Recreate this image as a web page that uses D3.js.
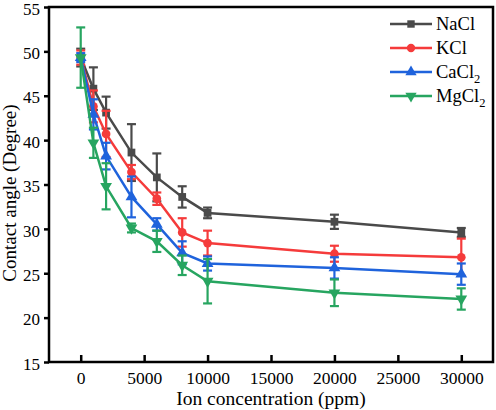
<!DOCTYPE html>
<html>
<head>
<meta charset="utf-8">
<script src="https://cdn.jsdelivr.net/npm/d3@7"></script>
<style>
  body { margin: 0; background: #fff; }
  text { font-family: "Liberation Serif", "Times New Roman", serif; }
</style>
</head>
<body>
<div id="chart"></div>
<script>
const concentrations = [0, 1000, 2000, 4000, 6000, 8000, 10000, 20000, 30000];
const seriesNames = ["NaCl", "KCl", "CaCl2", "MgCl2"];
const naclValues = [49.3, 45.8, 43.1, 38.6, 35.8, 33.6, 31.8, 30.8, 29.6];
const naclErrors = [1.0, 2.4, 1.8, 3.2, 2.7, 1.2, 0.6, 0.8, 0.5];
const kclValues = [49.3, 43.8, 40.7, 36.4, 33.4, 29.6, 28.4, 27.2, 26.8];
const kclErrors = [0.8, 1.8, 2.6, 0.8, 0.7, 1.6, 1.4, 0.9, 2.1];
const cacl2Values = [49.3, 42.9, 38.2, 33.6, 30.5, 27.3, 26.1, 25.6, 24.9];
const cacl2Errors = [0.5, 1.7, 1.5, 2.3, 0.7, 1.3, 0.8, 1.2, 1.2];
const mgcl2Values = [49.3, 39.7, 34.8, 30.1, 28.6, 25.9, 24.1, 22.8, 22.1];
const mgcl2Errors = [3.4, 1.7, 2.6, 0.5, 1.2, 1.1, 2.5, 1.5, 1.2];
const xTicks = [0, 5000, 10000, 15000, 20000, 25000, 30000];
const yTicks = [15, 20, 25, 30, 35, 40, 45, 50, 55];

const series = [
  { name: "NaCl", sub: "", values: naclValues, errors: naclErrors, color: "#4a4a4a", symbol: d3.symbolSquare },
  { name: "KCl", sub: "", values: kclValues, errors: kclErrors, color: "#f53b3b", symbol: d3.symbolCircle },
  { name: "CaCl", sub: "2", values: cacl2Values, errors: cacl2Errors, color: "#1f63dc", symbol: d3.symbolTriangle },
  { name: "MgCl", sub: "2", values: mgcl2Values, errors: mgcl2Errors, color: "#27a560", symbol: d3.symbolTriangle, flip: true },
];

const width = 496, height = 410;
const margin = { top: 7, right: 3, bottom: 48, left: 49 };

const svg = d3.select("#chart").append("svg")
  .attr("width", width)
  .attr("height", height);

const x = d3.scaleLinear().domain([-2500, 32500]).range([margin.left, width - margin.right]);
const y = d3.scaleLinear().domain([15, 55]).range([height - margin.bottom, margin.top]);

// axes
svg.append("g")
  .attr("transform", `translate(0, ${y(15)})`)
  .call(d3.axisBottom(x).tickValues(xTicks).tickSize(-7).tickPadding(10).tickFormat(d3.format("d")))
  .call((g) => g.select(".domain").remove())
  .call((g) => g.selectAll("line").attr("stroke-width", 2.5))
  .call((g) => g.selectAll("text").attr("font-size", 17.5).attr("fill", "#000"));

svg.append("g")
  .attr("transform", `translate(${x(-2500)}, 0)`)
  .call(d3.axisLeft(y).tickValues(yTicks).tickSize(5).tickPadding(4))
  .call((g) => g.select(".domain").remove())
  .call((g) => g.selectAll("line").attr("stroke-width", 2.5))
  .call((g) => g.selectAll("text").attr("font-size", 17).attr("dy", "0.42em").attr("fill", "#000"));

svg.append("rect")
  .attr("x", x(-2500))
  .attr("y", y(55))
  .attr("width", x(32500) - x(-2500))
  .attr("height", y(15) - y(55))
  .attr("fill", "none")
  .attr("stroke", "#000")
  .attr("stroke-width", 2.5);

svg.append("text")
  .attr("x", 271)
  .attr("y", 405)
  .attr("text-anchor", "middle")
  .attr("font-size", 19.5)
  .text("Ion concentration (ppm)");

svg.append("text")
  .attr("transform", `translate(16, 193) rotate(-90)`)
  .attr("text-anchor", "middle")
  .attr("font-size", 19)
  .text("Contact angle (Degree)");

const line = d3.line()
  .x((d) => x(d.c))
  .y((d) => y(d.v));

series.forEach((s) => {
  const pts = concentrations.map((c, i) => ({ c, v: s.values[i], e: s.errors[i] }));
  const g = svg.append("g");

  g.append("path")
    .datum(pts)
    .attr("d", line)
    .attr("fill", "none")
    .attr("stroke", s.color)
    .attr("stroke-width", 2.5);

  const eb = g.selectAll(".err").data(pts).enter().append("g");
  eb.append("line")
    .attr("x1", (d) => x(d.c)).attr("x2", (d) => x(d.c))
    .attr("y1", (d) => y(d.v - d.e)).attr("y2", (d) => y(d.v + d.e))
    .attr("stroke", s.color).attr("stroke-width", 2.2);
  [-1, 1].forEach((k) => {
    eb.append("line")
      .attr("x1", (d) => x(d.c) - 4.5).attr("x2", (d) => x(d.c) + 4.5)
      .attr("y1", (d) => y(d.v + k * d.e)).attr("y2", (d) => y(d.v + k * d.e))
      .attr("stroke", s.color).attr("stroke-width", 2.2);
  });

  g.selectAll(".mark").data(pts).enter().append("path")
    .attr("d", d3.symbol().type(s.symbol).size(60))
    .attr("transform", (d) => `translate(${x(d.c)}, ${y(d.v)})${s.flip ? " rotate(180)" : ""}`)
    .attr("fill", s.color);
});

// legend
const legend = svg.append("g");
series.forEach((s, i) => {
  const ly = 24 + i * 24;
  legend.append("line")
    .attr("x1", 390).attr("x2", 432)
    .attr("y1", ly).attr("y2", ly)
    .attr("stroke", s.color).attr("stroke-width", 2.5);
  legend.append("path")
    .attr("d", d3.symbol().type(s.symbol).size(55))
    .attr("transform", `translate(411, ${ly})${s.flip ? " rotate(180)" : ""}`)
    .attr("fill", s.color);
  const t = legend.append("text")
    .attr("x", 436).attr("y", ly + 6)
    .attr("font-size", 18.5)
    .text(s.name);
  if (s.sub) {
    t.append("tspan").attr("dy", 5).attr("font-size", 12.5).text(s.sub);
  }
});
</script>
</body>
</html>
